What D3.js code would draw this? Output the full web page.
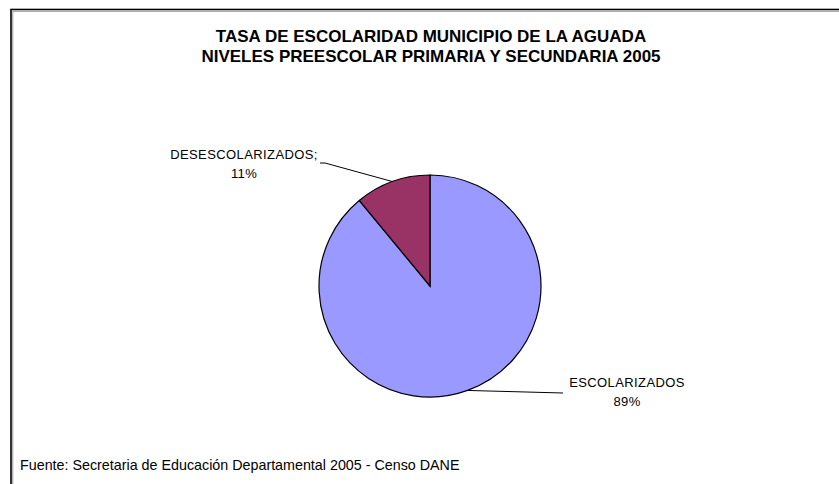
<!DOCTYPE html>
<html>
<head>
<meta charset="utf-8">
<script src="https://cdn.jsdelivr.net/npm/d3@7"></script>
<style>
  body { margin: 0; background: #fff; }
  svg text { font-family: "Liberation Sans", Arial, sans-serif; fill: #000; }
</style>
</head>
<body>
<div id="chart"></div>
<script>
var categories = ["ESCOLARIZADOS", "DESESCOLARIZADOS"];
var values = [89, 11];
var colors = ["#9999FF", "#993366"];
var titleLines = ["TASA DE ESCOLARIDAD MUNICIPIO DE LA AGUADA",
                  "NIVELES PREESCOLAR PRIMARIA Y SECUNDARIA 2005"];
var source = "Fuente: Secretaria de Educación Departamental 2005 - Censo DANE";

var svgWidth = 839;
var svgHeight = 484;

var svg = d3.select("#chart")
  .append("svg")
  .attr("width", svgWidth)
  .attr("height", svgHeight);

// frame (runs off the right and bottom edges)
svg.append("rect")
  .attr("x", 11).attr("y", 9.5)
  .attr("width", 900).attr("height", 600)
  .attr("fill", "none")
  .attr("stroke", "#000")
  .attr("stroke-width", 1.6);
svg.append("path")
  .attr("d", "M12.8,600 V11.3 H900")
  .attr("fill", "none")
  .attr("stroke", "#999")
  .attr("stroke-width", 1);

// title
svg.append("g").selectAll("text")
  .data(titleLines)
  .enter()
  .append("text")
  .attr("x", 431)
  .attr("y", function (d, i) { return 42 + i * 20; })
  .attr("text-anchor", "middle")
  .style("font-size", "17px")
  .style("font-weight", "bold")
  .text(function (d) { return d; });

var cx = 430, cy = 286, radius = 111;

var pie = d3.pie().sort(null).value(function (d) { return d; });
var arc = d3.arc().innerRadius(0).outerRadius(radius);
var arcs = pie(values);

var pieGroup = svg.append("g")
  .attr("transform", `translate(${cx}, ${cy})`);

pieGroup.selectAll("path")
  .data(arcs)
  .enter()
  .append("path")
  .attr("d", arc)
  .attr("fill", function (d, i) { return colors[i]; })
  .attr("stroke", "#000")
  .attr("stroke-width", 1.2);

// leader lines start at slice mid angle on the edge
function edgePoint(d) {
  var a = (d.startAngle + d.endAngle) / 2;
  return [Math.sin(a) * radius, -Math.cos(a) * radius];
}

var labelInfo = [
  { elbow: [133, 107], tail: 0, lines: ["ESCOLARIZADOS", "89%"], tx: 197, ty: 101 },
  { elbow: [-105, -123], tail: -5, lines: ["DESESCOLARIZADOS;", "11%"], tx: -186, ty: -127 }
];

pieGroup.selectAll(".leader")
  .data(arcs)
  .enter()
  .append("polyline")
  .attr("class", "leader")
  .attr("fill", "none")
  .attr("stroke", "#000")
  .attr("stroke-width", 1)
  .attr("points", function (d, i) {
    var p = edgePoint(d);
    var e = labelInfo[i].elbow;
    return [p, e, [e[0] + labelInfo[i].tail, e[1]]]
      .map(function (q) { return q.join(","); }).join(" ");
  });

pieGroup.selectAll(".lbl")
  .data(arcs)
  .enter()
  .append("text")
  .attr("class", "lbl")
  .attr("text-anchor", "middle")
  .style("font-size", "13px")
  .style("letter-spacing", "0.4px")
  .each(function (d, i) {
    var info = labelInfo[i];
    var t = d3.select(this);
    info.lines.forEach(function (line, k) {
      t.append("tspan")
        .attr("x", info.tx)
        .attr("y", info.ty + k * 19)
        .text(line);
    });
  });

// source note
svg.append("text")
  .attr("x", 20)
  .attr("y", 470)
  .style("font-size", "14.3px")
  .text(source);
</script>
</body>
</html>
